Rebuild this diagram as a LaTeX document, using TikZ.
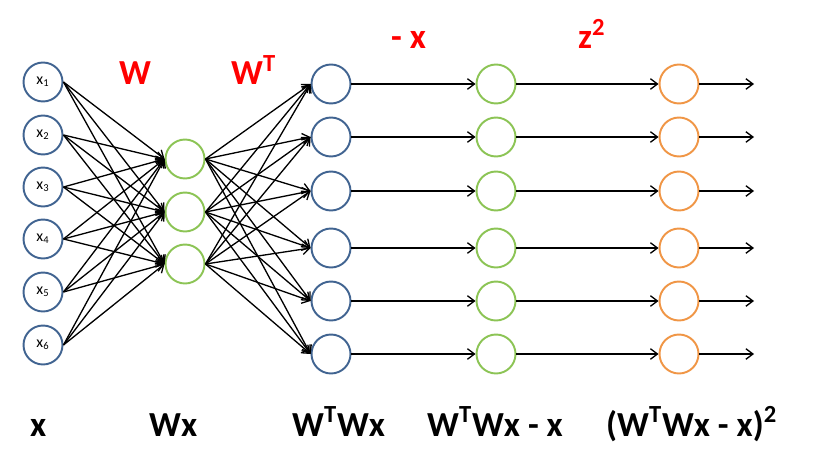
\documentclass[tikz,border=0pt]{standalone}
\usepackage{fontspec}
\setmainfont{Carlito}
\usetikzlibrary{arrows.meta}

\definecolor{inblue}{RGB}{65,100,145}
\definecolor{hidgreen}{RGB}{140,196,85}
\definecolor{sqorange}{RGB}{240,150,70}

\tikzset{
	>={Straight Barb[length=4pt,width=6pt]},
	unit/.style={circle, line width=1.1pt, minimum size=0.78cm, inner sep=0pt, fill=white},
	link/.style={->, line width=0.75pt},
	redlabel/.style={anchor=base west, text=red, font=\fontsize{20}{24}\selectfont\bfseries},
	varlabel/.style={anchor=base west, font=\fontsize{20}{24}\selectfont\bfseries}
}

\begin{document}
\begin{tikzpicture}[x=0.02cm, y=-0.02cm]
	\useasboundingbox (0, 0) rectangle (830, 449);
	% input layer
	\foreach \i/\y in {1/82, 2/135, 3/187, 4/239, 5/292, 6/345}
		\node [unit, draw=inblue, font=\fontsize{9}{10}\selectfont] (x\i) at (43, \y) {x\textsubscript{\i}};
	% hidden layer
	\foreach \j/\y in {1/159, 2/212, 3/264}
		\node [unit, draw=hidgreen] (h\j) at (185, \y) {};
	% reconstruction, difference, square
	\foreach \k/\y in {1/84, 2/137, 3/191, 4/248, 5/301, 6/354} {
		\node [unit, draw=inblue] (r\k) at (331, \y) {};
		\node [unit, draw=hidgreen] (d\k) at (496, \y) {};
		\node [unit, draw=sqorange] (s\k) at (679, \y) {};
		\coordinate (o\k) at (754, \y);
		\draw [link] (r\k) -- (d\k);
		\draw [link] (d\k) -- (s\k);
		\draw [link] (s\k) -- (o\k);
	}
	\foreach \i in {1,...,6}
		\foreach \j in {1,2,3} {
			\draw [link] (x\i.east) -- (h\j.west);
			\draw [link] (h\j.east) -- (r\i.west);
		}
	% weights and operations
	\node [redlabel] (wlab) at (113, 85) {W};
	\node [redlabel] (wtlab) at (225, 85) {W\textsuperscript{T}};
	\node [redlabel] (mxlab) at (385, 49) {- x};
	\node [redlabel] (zlab) at (572, 49) {z\textsuperscript{2}};
	% layer values
	\node [varlabel] (xval) at (24, 436) {x};
	\node [varlabel] (wxval) at (143, 436) {Wx};
	\node [varlabel] (rval) at (286, 436) {W\textsuperscript{T}Wx};
	\node [varlabel] (dval) at (421, 436) {W\textsuperscript{T}Wx - x};
	\node [varlabel] (sval) at (600, 436) {(W\textsuperscript{T}Wx - x)\textsuperscript{2}};
\end{tikzpicture}
\end{document}
